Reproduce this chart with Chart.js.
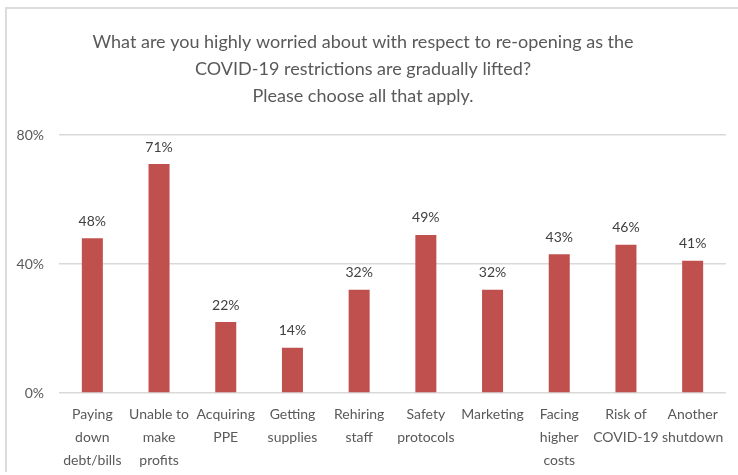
<!DOCTYPE html>
<html>
<head>
<meta charset="utf-8">
<script src="https://cdn.jsdelivr.net/npm/chart.js@4/dist/chart.umd.min.js"></script>
<style>
  html, body { margin: 0; padding: 0; background: #ffffff; }
  #wrap { position: absolute; left: 0; top: 0; width: 738px; height: 475px; }
  #frame { position: absolute; left: 5px; top: 7px; width: 740px; height: 465px;
           border-left: 2px solid #dcdcdc; border-top: 2px solid #dcdcdc; box-sizing: border-box; }
  canvas { position: absolute; left: 0; top: 0; }
</style>
</head>
<body>
<div id="wrap">
  <div id="frame"></div>
  <canvas id="c" width="738" height="475"></canvas>
</div>
<script>
const titleLines = [
  "What are you highly worried about with respect to re-opening as the",
  "COVID-19 restrictions are gradually lifted?",
  "Please choose all that apply."
];
const categories = [
  ["Paying", "down", "debt/bills"],
  ["Unable to", "make", "profits"],
  ["Acquiring", "PPE"],
  ["Getting", "supplies"],
  ["Rehiring", "staff"],
  ["Safety", "protocols"],
  ["Marketing"],
  ["Facing", "higher", "costs"],
  ["Risk of", "COVID-19"],
  ["Another", "shutdown"]
];
const values = [48, 71, 22, 14, 32, 49, 32, 43, 46, 41];
const yTicks = [0, 40, 80];

const FONT = "Lato, 'Open Sans', sans-serif";

const barLabels = {
  id: 'barLabels',
  afterDatasetsDraw(chart) {
    const ctx = chart.ctx;
    const meta = chart.getDatasetMeta(0);
    ctx.save();
    ctx.fillStyle = '#404040';
    ctx.font = '14px ' + FONT;
    ctx.textAlign = 'center';
    ctx.textBaseline = 'middle';
    meta.data.forEach((bar, i) => {
      ctx.fillText(values[i] + '%', bar.x, bar.y - 17);
    });
    ctx.restore();
  }
};

new Chart(document.getElementById('c'), {
  type: 'bar',
  data: {
    labels: categories,
    datasets: [{
      data: values,
      backgroundColor: '#C0504D',
      borderWidth: 0,
      categoryPercentage: 1.0,
      barPercentage: 0.315
    }]
  },
  options: {
    responsive: false,
    animation: false,
    layout: { padding: { left: 0, right: 12, top: 29, bottom: 0 } },
    plugins: {
      legend: { display: false },
      tooltip: { enabled: false },
      title: {
        display: true,
        text: titleLines,
        color: '#595959',
        font: { family: FONT, size: 18, weight: 'normal', lineHeight: 1.5 },
        padding: { top: 0, bottom: 25 }
      }
    },
    scales: {
      y: {
        min: 0, max: 80,
        afterBuildTicks(scale) { scale.ticks = yTicks.map(v => ({ value: v })); },
        afterFit(scale) { scale.width = 59; },
        ticks: {
          color: '#595959',
          font: { family: FONT, size: 14 },
          padding: 15,
          callback: v => v + '%'
        },
        grid: { color: '#d9d9d9', lineWidth: 1.5, drawTicks: false },
        border: { display: false }
      },
      x: {
        afterFit(scale) { scale.height = 82; },
        ticks: {
          color: '#595959',
          font: { family: FONT, size: 14, lineHeight: 1.64 },
          padding: 10,
          maxRotation: 0,
          autoSkip: false
        },
        grid: { display: false, drawTicks: false },
        border: { display: false }
      }
    }
  },
  plugins: [barLabels]
});
</script>
</body>
</html>
